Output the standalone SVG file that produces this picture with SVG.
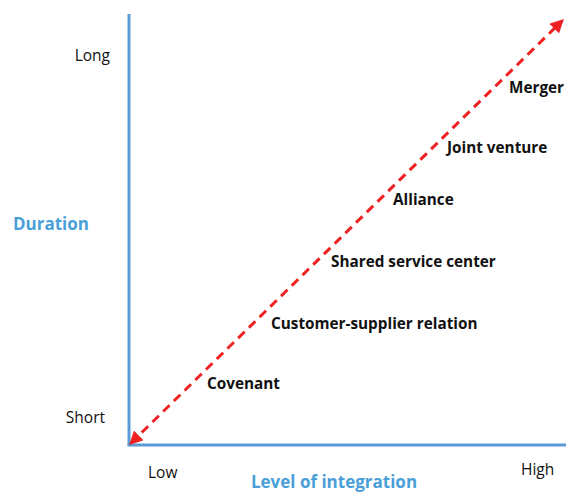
<svg xmlns="http://www.w3.org/2000/svg" width="566" height="494" viewBox="0 0 566 494">
<style>
.ax{stroke:#5b9bd5;stroke-width:3;fill:none}
.t{font-family:"Open Sans","Liberation Sans",sans-serif;font-size:15.5px;fill:#111}
.b{font-family:"Open Sans","Liberation Sans",sans-serif;font-size:15.3px;font-weight:bold;fill:#111}
.bl{font-family:"Open Sans","Liberation Sans",sans-serif;font-size:17px;font-weight:bold;fill:#4a9fd8}
</style>
<defs>
<marker id="ah" viewBox="0 0 10 10" refX="8" refY="5" markerWidth="4.5" markerHeight="4.5" orient="auto-start-reverse" markerUnits="strokeWidth">
<path d="M0,0 L10,5 L0,10 z" fill="#ee2222"/>
</marker>
</defs>
<rect width="566" height="494" fill="#fff"/>
<g id="axes">
<line class="ax" x1="129" y1="14" x2="129" y2="445"/>
<line class="ax" x1="127.5" y1="445" x2="566" y2="445"/>
</g>
<g id="connectors">
<line x1="131" y1="443" x2="562" y2="21" stroke="#ee2222" stroke-width="3" stroke-dasharray="9,6" marker-start="url(#ah)" marker-end="url(#ah)"/>
</g>
<g id="axis-labels">
<text class="t" x="110" y="61" text-anchor="end">Long</text>
<text class="t" x="105" y="423" text-anchor="end">Short</text>
<text class="bl" x="13" y="230">Duration</text>
<text class="t" x="148" y="478">Low</text>
<text class="t" x="521" y="475">High</text>
<text class="bl" x="334" y="488" text-anchor="middle">Level of integration</text>
</g>
<g id="n-merger"><text class="b" x="509" y="93">Merger</text></g>
<g id="n-jv"><text class="b" x="447" y="153">Joint venture</text></g>
<g id="n-alliance"><text class="b" x="393" y="205">Alliance</text></g>
<g id="n-ssc"><text class="b" x="331" y="267">Shared service center</text></g>
<g id="n-csr"><text class="b" x="271" y="329">Customer-supplier relation</text></g>
<g id="n-covenant"><text class="b" x="207" y="389">Covenant</text></g>
</svg>
